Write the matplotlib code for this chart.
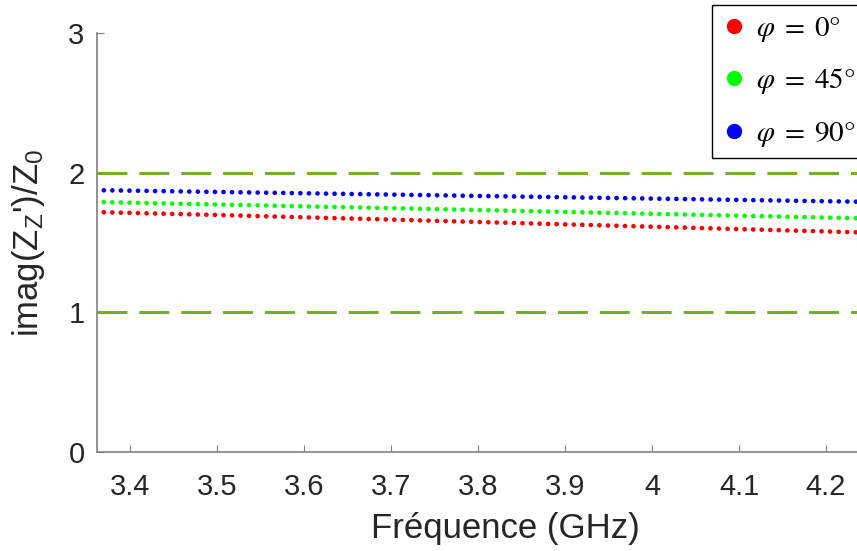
import numpy as np
import matplotlib.pyplot as plt
from matplotlib.lines import Line2D

# donnees
freq = [3.36, 3.5, 3.7, 3.9, 4.1, 4.3]
im_phi0 = [1.718, 1.697, 1.664, 1.630, 1.596, 1.562]
im_phi45 = [1.790, 1.772, 1.746, 1.719, 1.692, 1.665]
im_phi90 = [1.875, 1.862, 1.843, 1.824, 1.805, 1.786]
limites = [1, 2]
etiquettes = [r'$\varphi\;=\;0°$', r'$\varphi\;=\;45°$', r'$\varphi\;=\;90°$']
couleurs = ['#ff0000', '#00ff00', '#0000ff']
graduations_x = [3.4, 3.5, 3.6, 3.7, 3.8, 3.9, 4.0, 4.1, 4.2]
textes_x = ['3.4', '3.5', '3.6', '3.7', '3.8', '3.9', '4', '4.1', '4.2']

plt.rcParams['font.family'] = ['Liberation Sans', 'DejaVu Sans']
plt.rcParams['mathtext.fontset'] = 'custom'
plt.rcParams['mathtext.rm'] = 'Liberation Sans'
plt.rcParams['mathtext.it'] = 'Liberation Sans'

fig = plt.figure(figsize=(8.57, 5.51), dpi=100)
# l'axe depasse a droite (figure rognee)
ax = fig.add_axes([97/857, 1-452/551, 816/857, (452-33)/551])

gris = '#808080'
texte = '#262626'

for y in limites:
    ax.axhline(y, color='#77ac30', lw=2.2, dashes=(9.8, 3.9))

for yv, c in zip([im_phi0, im_phi45, im_phi90], couleurs):
    ax.plot(freq, yv, color=c, lw=3.4, dash_capstyle='round', dashes=(0.01, 1.8))

ax.set_xlim(3.362, 4.3)
ax.set_ylim(0, 3)
ax.set_xticks(graduations_x)
ax.set_xticklabels(textes_x)
ax.set_yticks([0, 1, 2, 3])

for s in ['top', 'right']:
    ax.spines[s].set_visible(False)
for s in ['left', 'bottom']:
    ax.spines[s].set_color(gris)
    ax.spines[s].set_linewidth(1.2)
ax.tick_params(direction='in', length=5, color=gris, labelcolor=texte,
               labelsize=21)
ax.tick_params(axis='x', pad=15)
ax.tick_params(axis='y', pad=9)

ax.set_xlabel('Fréquence (GHz)', fontsize=25, color=texte, labelpad=8)
ax.set_ylabel(r"imag(Z$_Z$')/Z$_0$", fontsize=25, color=texte, labelpad=15)

poignees = [Line2D([], [], ls='none', marker='o', ms=10, color=c) for c in couleurs]
leg = fig.legend(poignees, etiquettes, loc='upper left',
                 bbox_to_anchor=(712/857, 1-5/551), borderaxespad=0,
                 prop={'size': 21, 'math_fontfamily': 'stix'},
                 frameon=True, fancybox=False, framealpha=1,
                 edgecolor='black', labelspacing=0.78, handletextpad=0.3,
                 handlelength=0.9, borderpad=0.3)
leg.get_frame().set_linewidth(1.0)

fig.savefig('out.png', dpi=100)
